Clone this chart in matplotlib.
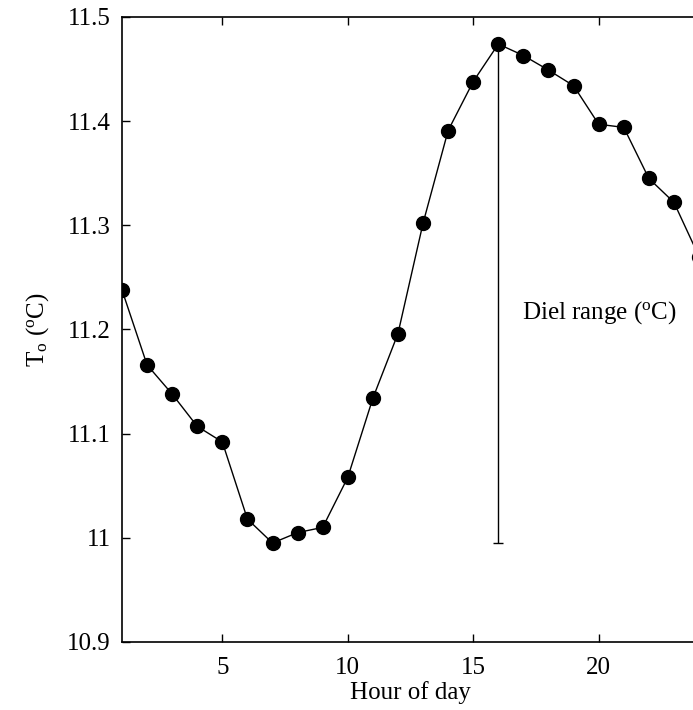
#!/usr/bin/env python3

import matplotlib
matplotlib.use('Agg')
import matplotlib.pyplot as plt
import matplotlib.ticker as mticker
import numpy as np

# ======================================================================
# Data: mean temperature by hour of day.
# ======================================================================

hours = np.arange(1, 25)
temp = np.array([
    11.238, 11.166, 11.138, 11.107, 11.092, 11.018, 10.995, 11.005,
    11.010, 11.058, 11.134, 11.196, 11.302, 11.391, 11.438, 11.474,
    11.463, 11.449, 11.434, 11.397, 11.394, 11.345, 11.322, 11.270,
    ])
xticks = [5, 10, 15, 20]
yticks = [10.9, 11.0, 11.1, 11.2, 11.3, 11.4, 11.5]

# ======================================================================
# Style.
# ======================================================================

plt.rcParams['font.family'] = ['Liberation Serif', 'DejaVu Serif']
plt.rcParams['mathtext.fontset'] = 'custom'
plt.rcParams['mathtext.rm'] = 'Liberation Serif'
plt.rcParams['mathtext.it'] = 'Liberation Serif:italic'
plt.rcParams['font.size'] = 18

fig = plt.figure(figsize=(6.93, 7.10), dpi=100)
# right edge sits just off the canvas, as in the reference crop
ax = fig.add_axes([0.176, 0.0958, 0.8327, 0.8803])

ax.plot(hours, temp, color='k', lw=1.0, marker='o', ms=10,
        mec='k', mfc='k')

# diel range bar, from the minimum up to the peak, at hour of peak
ipk = np.argmax(temp)
ax.vlines(hours[ipk], temp.min(), temp.max(), colors='k', lw=1.0)
ax.hlines(temp.min(), hours[ipk]-0.2, hours[ipk]+0.2, colors='k', lw=1.0)
ax.text(hours[ipk]+0.95, 11.210, r'Diel range ($^\mathrm{o}$C)',
        ha='left', va='baseline', fontsize=18)

ax.set_xlim(1, 24)
ax.set_ylim(10.9, 11.5)
ax.set_xticks(xticks)
ax.set_yticks(yticks)
ax.yaxis.set_major_formatter(mticker.FormatStrFormatter('%g'))
ax.tick_params(direction='in', top=True, right=False, length=6,
               width=1.0, labelsize=18, pad=8)
ax.tick_params(axis='x', pad=11)
for s in ax.spines.values():
    s.set_linewidth(1.2)

ax.set_xlabel('Hour of day', fontsize=18, labelpad=1)
ax.set_ylabel(r'T$_\mathrm{o}$ ($^\mathrm{o}$C)', fontsize=18, labelpad=12)

fig.savefig('out.png', dpi=100)
plt.close()
